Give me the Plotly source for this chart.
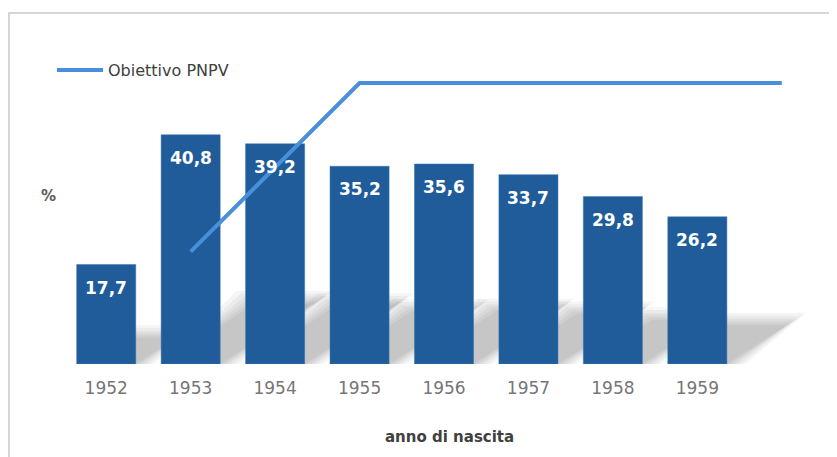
import plotly.graph_objects as go

# ---- data ----
years = [1952, 1953, 1954, 1955, 1956, 1957, 1958, 1959]
coverage = [17.7, 40.8, 39.2, 35.2, 35.6, 33.7, 29.8, 26.2]
target_years = [1953, 1954, 1955, 1956, 1957, 1958, 1959, 1960]
target_values = [20, 35, 50, 50, 50, 50, 50, 50]
tick_labels = [str(y) for y in years]

BAR = "#1f5c99"
LINE = "#4a8fdb"
W, H = 837, 457
OFF = 8  # page body margin
ML, MR, MT, MB = 64 - OFF, 21, 55 - OFF, 457 - (364 - OFF)
XR = [1951.5, 1960.5]
YR = [0, 55]
pw = W - ML - MR
ph = H - MT - MB


def px_to_paper_x(px):
    return (px - OFF - ML) / pw


def px_to_paper_y(py):
    return (H - MB - (py - OFF)) / ph


fig = go.Figure()
fig.add_trace(go.Bar(
    x=years, y=coverage, marker=dict(color=BAR, line=dict(color="#3a78b8", width=0.5)),
    width=0.7, showlegend=False, hoverinfo="skip",
))
fig.add_trace(go.Scatter(
    x=target_years, y=target_values, mode="lines", name="Obiettivo PNPV",
    line=dict(color=LINE, width=4), hoverinfo="skip",
))

# value labels inside bars
annotations = []
for x, v in zip(years, coverage):
    annotations.append(dict(
        x=x, y=v, xref="x", yref="y", yshift=-23, showarrow=False,
        text=f"{v:.1f}".replace(".", ","),
        font=dict(family="DejaVu Sans", size=17, color="white", weight="bold"),
        xanchor="center", yanchor="middle",
    ))
annotations.append(dict(
    x=px_to_paper_x(48), y=px_to_paper_y(196), xref="paper", yref="paper",
    text="%", showarrow=False, xanchor="center", yanchor="middle",
    font=dict(family="DejaVu Sans", size=15, color="#595959", weight="bold"),
))
annotations.append(dict(
    x=px_to_paper_x(449), y=px_to_paper_y(437), xref="paper", yref="paper",
    text="anno di nascita", showarrow=False, xanchor="center", yanchor="middle",
    font=dict(family="DejaVu Sans", size=15, color="#404040", weight="bold"),
))

# soft perspective shadows behind the bars (derived from bar values)
shapes = []
half = 0.35
for x, v in zip(years, coverage):
    dx = 0.0273 * v
    top = 0.265 * v
    for grow in [0.22, 0.17, 0.12, 0.08, 0.04, 0.0]:
        path = (f"M {x - half},0 L {x + half + grow},0 "
                f"L {x + half + dx + grow},{top + grow * 10} "
                f"L {x - half + dx - grow},{top + grow * 10} Z")
        shapes.append(dict(type="path", path=path, xref="x", yref="y",
                           fillcolor="black", opacity=0.04, line=dict(width=0),
                           layer="below"))

# outer frame
shapes.append(dict(type="rect", xref="paper", yref="paper",
                   x0=px_to_paper_x(9), x1=px_to_paper_x(850),
                   y0=px_to_paper_y(480), y1=px_to_paper_y(13),
                   line=dict(color="#d6d6d6", width=2), fillcolor="rgba(0,0,0,0)",
                   layer="below"))

fig.update_layout(
    width=W, height=H,
    margin=dict(l=ML, r=MR, t=MT, b=MB),
    paper_bgcolor="white", plot_bgcolor="white",
    separators=",.",
    showlegend=True,
    legend=dict(x=px_to_paper_x(52), y=px_to_paper_y(53), xanchor="left", yanchor="top",
                font=dict(family="DejaVu Sans", size=16, color="#404040"),
                bgcolor="rgba(0,0,0,0)", itemwidth=46),
    xaxis=dict(range=XR, tickvals=years, ticktext=tick_labels, showgrid=False,
               zeroline=False, showline=False, ticks="", ticklabelstandoff=12,
               tickfont=dict(family="DejaVu Sans", size=17, color="#767676")),
    yaxis=dict(range=YR, showgrid=False, zeroline=False, showline=False,
               showticklabels=False, ticks=""),
    annotations=annotations, shapes=shapes,
)

fig.write_html("out.html")
